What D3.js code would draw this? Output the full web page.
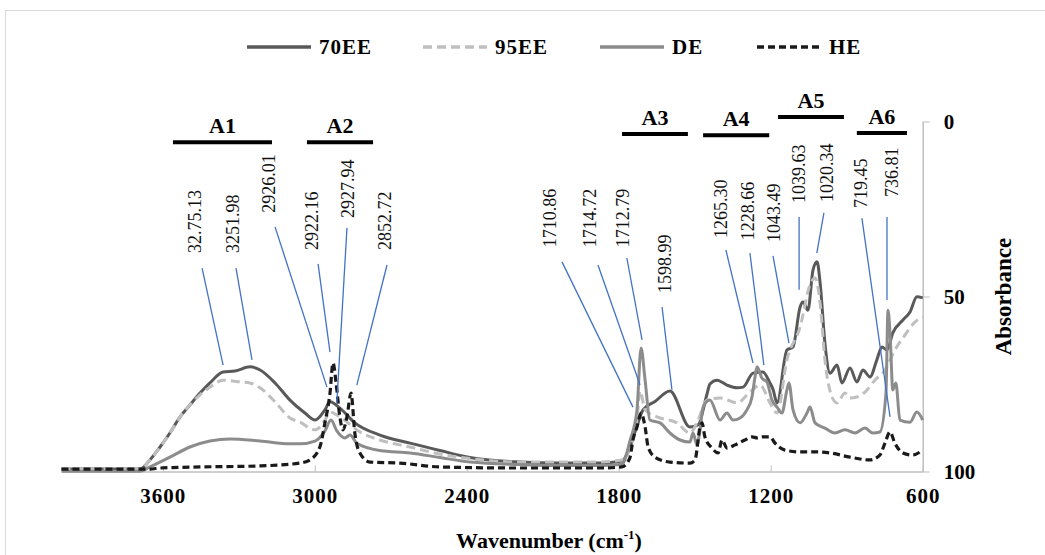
<!DOCTYPE html>
<html>
<head>
<meta charset="utf-8">
<script src="https://cdn.jsdelivr.net/npm/d3@7"></script>
<style>
  body { margin: 0; background: #fff; }
  text { font-family: 'Liberation Serif', 'DejaVu Serif', serif; }
</style>
</head>
<body>
<div id="chart"></div>
<script>
// spectra: [wavenumber, absorbance]
const ee70 = [[4000,99.3],[3690,99.3],[3651,96.7],[3611,93.0],[3572,89.0],[3532,84.4],[3493,81.0],[3453,77.6],[3414,74.7],[3362,71.6],[3315,71.3],[3256,70.1],[3216,71.0],[3157,74.7],[3098,79.6],[3039,83.3],[2999,85.3],[2960,82.4],[2940,80.1],[2901,81.9],[2842,86.1],[2743,89.6],[2624,91.9],[2506,94.0],[2387,96.0],[2190,97.3],[2032,97.6],[1874,97.6],[1787,97.0],[1756,93.0],[1728,87.0],[1704,82.4],[1657,80.0],[1598,77.0],[1519,87.3],[1487,86.7],[1452,78.0],[1440,75.0],[1412,73.9],[1373,75.3],[1333,76.1],[1309,75.9],[1270,71.9],[1231,71.6],[1203,74.7],[1191,76.5],[1175,80.4],[1136,65.3],[1112,64.4],[1084,53.0],[1073,51.6],[1053,53.9],[1033,42.4],[1017,40.1],[1005,46.1],[986,63.3],[966,71.9],[938,69.6],[919,74.7],[887,70.4],[860,74.4],[836,71.0],[808,73.0],[781,68.1],[761,64.4],[741,65.3],[718,60.4],[678,56.7],[650,54.4],[623,50.1],[600,50.4]];

const ee95 = [[4000,99.3],[3690,99.3],[3651,96.7],[3611,93.0],[3572,89.0],[3532,84.4],[3493,81.0],[3453,78.1],[3414,75.9],[3362,73.9],[3295,74.4],[3256,74.7],[3216,76.1],[3157,80.1],[3098,84.7],[3059,85.9],[2999,88.1],[2960,85.3],[2940,83.0],[2901,84.4],[2822,88.7],[2743,91.0],[2624,93.0],[2506,95.0],[2387,96.3],[2190,97.3],[2032,97.3],[1874,97.3],[1787,96.7],[1756,93.5],[1728,85.0],[1716,77.0],[1696,82.4],[1649,84.4],[1570,86.1],[1519,89.0],[1491,86.1],[1452,79.6],[1400,79.0],[1333,80.4],[1282,77.3],[1242,75.3],[1203,80.4],[1175,83.3],[1136,68.1],[1084,58.7],[1045,46.7],[1025,44.7],[1005,51.9],[986,68.1],[958,78.7],[938,80.4],[907,77.6],[887,79.0],[860,78.7],[828,77.3],[789,73.9],[749,71.0],[710,65.3],[670,61.0],[631,57.3],[600,55.9]];

const de = [[4000,99.9],[3690,99.9],[3651,98.7],[3572,95.9],[3493,93.0],[3414,91.3],[3335,90.7],[3216,91.3],[3098,92.1],[3059,92.1],[2999,91.3],[2960,88.4],[2936,85.3],[2913,88.4],[2881,90.4],[2861,89.6],[2834,91.9],[2743,94.0],[2624,94.7],[2506,96.0],[2387,97.3],[2190,98.0],[2032,98.3],[1874,98.3],[1787,97.9],[1756,91.3],[1728,82.4],[1712,64.7],[1696,73.9],[1677,85.3],[1637,86.1],[1598,89.0],[1558,91.0],[1519,91.6],[1507,89.0],[1491,92.4],[1479,88.1],[1467,81.6],[1440,79.6],[1400,85.3],[1373,83.3],[1349,85.3],[1321,84.7],[1294,82.4],[1274,78.7],[1262,73.0],[1254,70.1],[1235,73.3],[1215,74.4],[1195,79.6],[1175,81.6],[1156,83.3],[1136,76.7],[1128,74.7],[1112,82.4],[1084,86.1],[1057,83.3],[1045,81.6],[1025,86.1],[986,87.6],[946,89.0],[907,88.1],[867,89.0],[828,87.6],[797,89.0],[769,88.7],[745,77.6],[737,53.9],[729,60.4],[718,76.7],[706,74.7],[690,85.3],[650,85.9],[623,83.0],[600,85.3]];

const he = [[4000,99.3],[3651,99.3],[3611,99.0],[3453,98.7],[3216,98.4],[3059,97.6],[3019,96.7],[2980,93.0],[2960,86.1],[2940,77.6],[2928,69.0],[2916,74.7],[2901,84.4],[2889,88.1],[2873,84.4],[2857,77.6],[2842,89.0],[2822,94.7],[2782,97.3],[2664,97.6],[2506,98.7],[2190,99.0],[1874,99.0],[1787,98.7],[1756,96.1],[1744,91.0],[1728,87.3],[1712,83.3],[1696,87.3],[1684,93.0],[1657,95.9],[1598,97.3],[1519,97.6],[1499,96.7],[1479,87.3],[1471,86.1],[1460,90.1],[1432,93.3],[1408,94.7],[1392,91.0],[1373,93.3],[1341,92.4],[1302,91.0],[1274,90.1],[1254,90.4],[1231,90.1],[1203,90.1],[1183,91.9],[1144,93.9],[1084,94.4],[1025,94.4],[966,94.7],[887,95.9],[808,96.7],[769,95.3],[749,91.9],[729,88.7],[710,91.9],[678,94.7],[642,95.3],[600,93.9]];

const seriesNames = ['70EE', '95EE', 'DE', 'HE'];
const xTicks = [3600, 3000, 2400, 1800, 1200, 600];
const yTicks = [0, 50, 100];

// peak labels: text, text pos (wn, abs at text bottom), leader from / to
const peakLabels = ['32.75.13', '3251.98', '2926.01', '2922.16', '2927.94', '2852.72',
  '1710.86', '1714.72', '1712.79', '1598.99', '1265.30', '1228.66', '1043.49',
  '1039.63', '1020.34', '719.45', '736.81'];
const peakText = [[3473,37.6],[3323,37.6],[3181,26.1],[3011,36.7],[2869,27.6],[2723,36.7],
  [2071,35.9],[1913,35.9],[1783,35.9],[1617,49.0],[1396,33.3],[1290,33.9],[1187,34.4],
  [1088,23.3],[978,23.0],[844,24.7],[721,21.6]];
const peakLead = [[3445,41.9,3362,69.6],[3311,41.9,3248,68.1],[3157,30.1,2952,75.9],[2987,40.7,2940,65.9],
  [2873,30.4,2913,80.4],[2715,41.0,2834,75.3],[2024,40.1,1744,81.6],[1882,41.0,1716,75.3],
  [1768,39.0,1708,62.4],[1629,53.0,1590,76.7],[1377,36.7,1270,69.0],[1282,37.6,1227,69.6],
  [1191,38.4,1128,63.3],[1088,27.3,1088,48.1],[990,26.1,1018,37.6],[840,27.6,729,84.4],
  [741,27.3,741,51.0]];

// region bands
const regionNames = ['A1', 'A2', 'A3', 'A4', 'A5', 'A6'];
const regionSpans = [[3560,3169,5.9],[3031,2770,5.9],[1787,1527,3.6],[1467,1206,3.9],[1171,911,-1.3],[860,662,3.3]];

const width = 1045;
const height = 555;

const svg = d3.select('#chart')
  .append('svg')
  .attr('width', width)
  .attr('height', height);

svg.append('rect')
  .attr('x', 5.5).attr('y', 10.5)
  .attr('width', 1100).attr('height', 600)
  .attr('fill', 'none')
  .attr('stroke', '#d9d9d9');

const x = d3.scaleLinear().domain([4000, 600]).range([61.5, 922.7]);
const y = d3.scaleLinear().domain([0, 100]).range([121.5, 471.5]);

// axes
const xAxis = d3.axisBottom(x).tickValues(xTicks).tickFormat(d3.format('d'))
  .tickSizeInner(-6).tickSizeOuter(0).tickPadding(17);
const gx = svg.append('g').attr('transform', `translate(0,${y(100)})`).call(xAxis);
gx.select('.domain').attr('stroke', '#bfbfbf').attr('stroke-width', 1.5);
gx.selectAll('.tick line').attr('stroke', '#bfbfbf');
gx.selectAll('.tick text')
  .attr('font-size', 21).attr('font-weight', 'bold').attr('fill', '#000')
  .attr('letter-spacing', 1)
  .attr('font-family', "'Liberation Serif', serif");

const yAxis = d3.axisRight(y).tickValues(yTicks).tickSizeInner(7).tickSizeOuter(0).tickPadding(14);
const gy = svg.append('g').attr('transform', `translate(${x(600)},0)`).call(yAxis);
gy.select('.domain').attr('stroke', '#bfbfbf').attr('stroke-width', 1.5);
gy.selectAll('.tick line').attr('stroke', '#bfbfbf');
gy.selectAll('.tick text')
  .attr('font-size', 21).attr('font-weight', 'bold').attr('fill', '#000')
  .attr('font-family', "'Liberation Serif', serif");

// axis titles
const xt = svg.append('text')
  .attr('x', 549).attr('y', 548)
  .attr('text-anchor', 'middle')
  .attr('font-size', 22).attr('font-weight', 'bold');
xt.append('tspan').text('Wavenumber (cm');
xt.append('tspan').attr('font-size', 13).attr('dy', -9).text('-1');
xt.append('tspan').attr('dy', 9).text(')');

svg.append('text')
  .attr('transform', `translate(1011,${y(50)}) rotate(-90)`)
  .attr('text-anchor', 'middle')
  .attr('font-size', 23).attr('font-weight', 'bold')
  .text('Absorbance');

// spectra
const styles = [
  { data: ee70, color: '#595959', dash: null, w: 3 },
  { data: ee95, color: '#bfbfbf', dash: '9,5', w: 3 },
  { data: de, color: '#8c8c8c', dash: null, w: 3 },
  { data: he, color: '#1a1a1a', dash: '7,4', w: 3.2 },
];

const line = d3.line()
  .x(d => x(d[0]))
  .y(d => y(d[1]))
  .curve(d3.curveMonotoneX);

styles.forEach(s => {
  svg.append('path')
    .datum(s.data)
    .attr('d', line)
    .attr('fill', 'none')
    .attr('stroke', s.color)
    .attr('stroke-width', s.w)
    .attr('stroke-dasharray', s.dash)
    .attr('stroke-linejoin', 'round');
});

// leader lines + peak labels
peakLead.forEach(p => {
  svg.append('line')
    .attr('x1', x(p[0])).attr('y1', y(p[1]))
    .attr('x2', x(p[2])).attr('y2', y(p[3]))
    .attr('stroke', '#4472c4').attr('stroke-width', 1.3);
});

peakLabels.forEach((t, i) => {
  svg.append('text')
    .attr('transform', `translate(${x(peakText[i][0])},${y(peakText[i][1])}) rotate(-90)`)
    .attr('dy', '0.35em')
    .attr('font-size', 18)
    .attr('fill', '#111')
    .text(t);
});

// region bars
regionNames.forEach((n, i) => {
  const r = regionSpans[i];
  svg.append('line')
    .attr('x1', x(r[0])).attr('x2', x(r[1]))
    .attr('y1', y(r[2])).attr('y2', y(r[2]))
    .attr('stroke', '#000').attr('stroke-width', 4);
  svg.append('text')
    .attr('x', (x(r[0]) + x(r[1])) / 2)
    .attr('y', y(r[2]) - 9)
    .attr('text-anchor', 'middle')
    .attr('font-size', 22).attr('font-weight', 'bold')
    .text(n);
});

// legend
const legendX = [247, 423, 600, 757];
const legend = svg.append('g');
seriesNames.forEach((n, i) => {
  const s = styles[i];
  legend.append('line')
    .attr('x1', legendX[i]).attr('x2', legendX[i] + 64)
    .attr('y1', 47).attr('y2', 47)
    .attr('stroke', s.color)
    .attr('stroke-width', s.w + 0.5)
    .attr('stroke-dasharray', s.dash);
  legend.append('text')
    .attr('x', legendX[i] + 72).attr('y', 54)
    .attr('font-size', 21).attr('font-weight', 'bold')
    .attr('letter-spacing', 1)
    .text(n);
});
</script>
</body>
</html>
